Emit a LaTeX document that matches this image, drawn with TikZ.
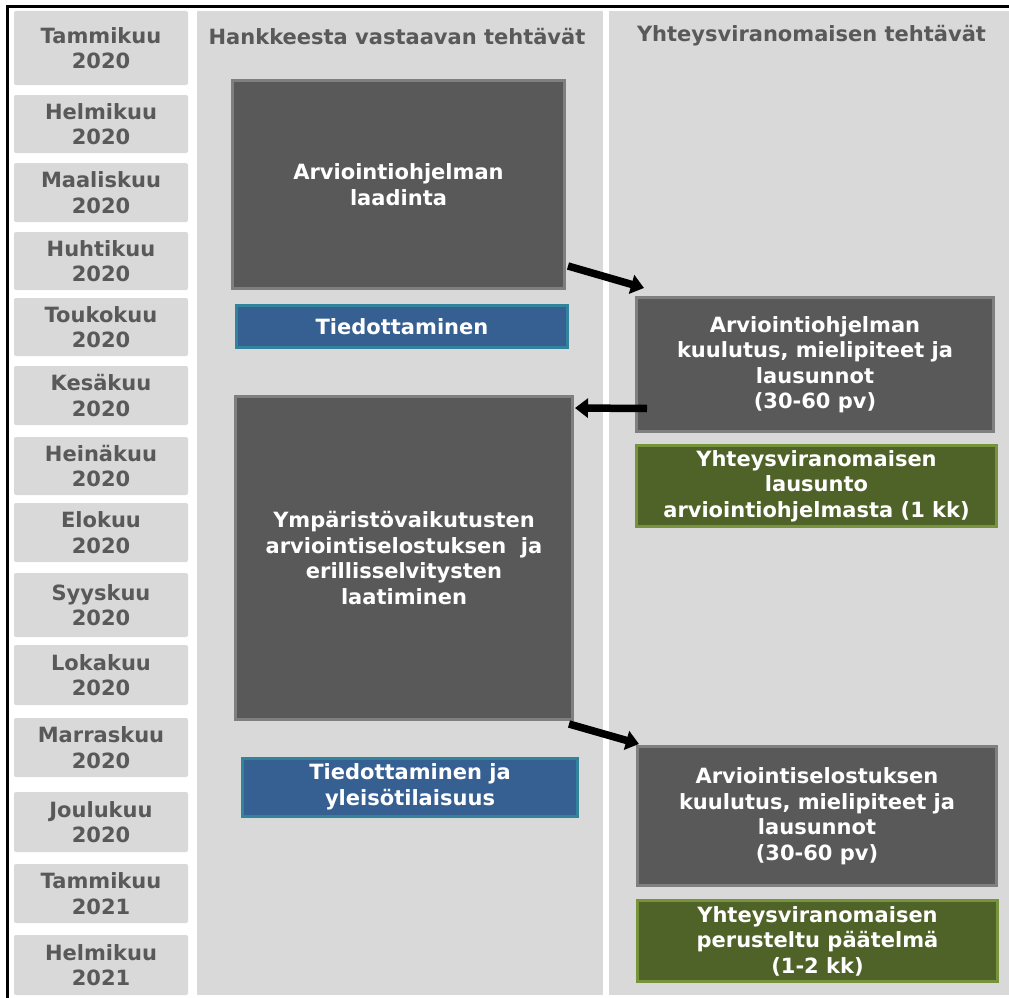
\documentclass[tikz,border=0pt]{standalone}
\usepackage{fontspec}
\setmainfont{DejaVu Sans}
\usetikzlibrary{arrows.meta,calc}
\definecolor{bg}{HTML}{D9D9D9}
\definecolor{txtgray}{HTML}{595959}
\definecolor{darkfill}{HTML}{595959}
\definecolor{darkline}{HTML}{7F7F7F}
\definecolor{bluefill}{HTML}{366092}
\definecolor{blueline}{HTML}{31849B}
\definecolor{greenfill}{HTML}{4F6228}
\definecolor{greenline}{HTML}{77933C}
\begin{document}
\begin{tikzpicture}[x=1pt,y=-1pt,
  lbl/.style={font=\fontsize{21}{25.5}\selectfont\bfseries, align=center},
  month/.style={lbl, fill=bg, text=txtgray, rounded corners=2pt, minimum width=174pt, inner sep=0pt},
  task/.style={lbl, fill=darkfill, draw=darkline, line width=3pt, text=white, inner sep=0pt},
  info/.style={lbl, fill=bluefill, draw=blueline, line width=3pt, text=white, inner sep=0pt},
  verdict/.style={lbl, fill=greenfill, draw=greenline, line width=3pt, text=white, inner sep=0pt},
  bigarrow/.style={line width=7.5pt, -{Triangle[length=13pt,width=19pt]}},
]
\useasboundingbox (0,0) rectangle (1009,998);
\fill[white] (0,0) rectangle (1009,998);
% columns
\fill[bg] (197,11) rectangle (603,995);
\fill[bg] (609,11) rectangle (1009,995);
% frame
\draw[line width=2.5pt] (7.5,998) -- (7.5,6.5) -- (1009,6.5);
% headers
\node[lbl, text=txtgray, anchor=base] (h1) at (397,44.5) {Hankkeesta vastaavan tehtävät};
\node[lbl, text=txtgray, anchor=base] (h2) at (811.5,42) {Yhteysviranomaisen tehtävät};
% months
\node[month, minimum height=74pt] (m1) at (101,48) {Tammikuu\\2020};
\node[month, minimum height=58pt] (m2) at (101,124) {Helmikuu\\2020};
\node[month, minimum height=59pt] (m3) at (101,192.5) {Maaliskuu\\2020};
\node[month, minimum height=58pt] (m4) at (101,261) {Huhtikuu\\2020};
\node[month, minimum height=58pt] (m5) at (101,327) {Toukokuu\\2020};
\node[month, minimum height=59pt] (m6) at (101,395.5) {Kesäkuu\\2020};
\node[month, minimum height=58pt] (m7) at (101,466) {Heinäkuu\\2020};
\node[month, minimum height=59pt] (m8) at (101,532.5) {Elokuu\\2020};
\node[month, minimum height=64pt] (m9) at (101,605) {Syyskuu\\2020};
\node[month, minimum height=60pt] (m10) at (101,675) {Lokakuu\\2020};
\node[month, minimum height=59pt] (m11) at (101,747.5) {Marraskuu\\2020};
\node[month, minimum height=60pt] (m12) at (101,822) {Joulukuu\\2020};
\node[month, minimum height=59pt] (m13) at (101,893.5) {Tammikuu\\2021};
\node[month, minimum height=60pt] (m14) at (101,965) {Helmikuu\\2021};
% left column tasks
\node[task, minimum width=332pt, minimum height=208pt] (A) at (398.5,184.5) {Arviointiohjelman\\laadinta};
\node[info, minimum width=331pt, minimum height=42pt] (I1) at (402,326.5) {Tiedottaminen};
\node[task, minimum width=337pt, minimum height=323pt] (B) at (404,558) {Ympäristövaikutusten\\arviointiselostuksen\ \ ja\\erillisselvitysten\\laatiminen};
\node[info, minimum width=335pt, minimum height=58pt] (I2) at (410,787) {Tiedottaminen ja\\yleisötilaisuus};
% right column tasks
\node[task, minimum width=357pt, minimum height=134pt] (C) at (815,364.5) {Arviointiohjelman\\kuulutus, mielipiteet ja\\lausunnot\\(30-60 pv)};
\node[verdict, minimum width=360pt, minimum height=81pt] (D) at (816.5,486) {Yhteysviranomaisen\\lausunto\\arviointiohjelmasta (1 kk)};
\node[task, minimum width=359pt, minimum height=139pt] (E) at (817,816) {Arviointiselostuksen\\kuulutus, mielipiteet ja\\lausunnot\\(30-60 pv)};
\node[verdict, minimum width=360pt, minimum height=81pt] (F) at (817.5,941) {Yhteysviranomaisen\\perusteltu päätelmä\\(1-2 kk)};
% arrows
\draw[bigarrow] ([shift={(2,-24)}]A.south east) -- ([shift={(9,-8)}]C.north west);
\draw[bigarrow] ([shift={(12,44)}]C.west) -- ([shift={(1,13)}]B.north east);
\draw[bigarrow] ([shift={(-5,3)}]B.south east) -- ([shift={(3,-1)}]E.north west);
\end{tikzpicture}
\end{document}
